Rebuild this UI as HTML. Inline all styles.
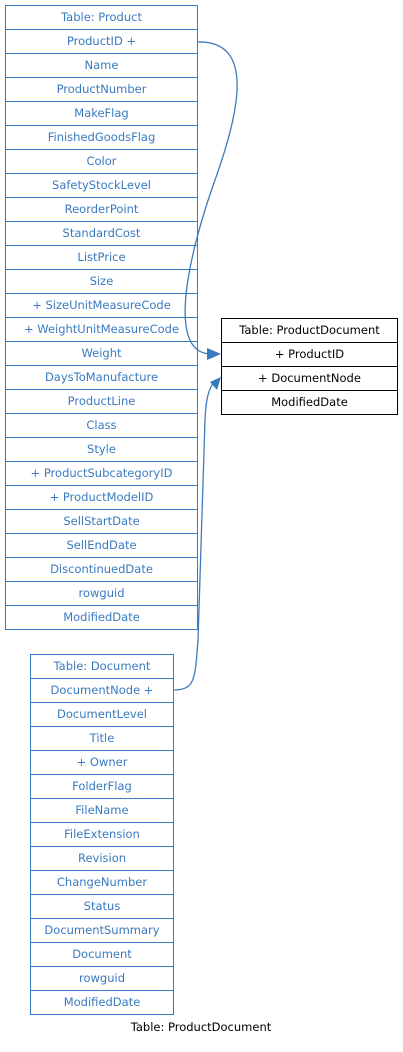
<!DOCTYPE html>
<html><head><meta charset="utf-8"><style>
body{margin:0;background:#fff;width:403px;height:1047px;overflow:hidden}
svg text{font-family:"DejaVu Sans","Liberation Sans",sans-serif;font-size:11.5px}
</style></head><body>
<svg width="403" height="1047" xmlns="http://www.w3.org/2000/svg">
<g id="prod" fill="#fff" stroke="#3a7abf" stroke-width="1"></g>
<g id="doc" fill="#fff" stroke="#3a7abf" stroke-width="1"></g>
<g id="pd" fill="#fff" stroke="#000" stroke-width="1"></g>
<path d="M197,42 C255,40 240,110 215,180 C190,250 165,352 210,354" fill="none" stroke="#3a7abf" stroke-width="1.3"/>
<polygon points="221,354 207,348 207,360" fill="#3a7abf"/>
<path d="M173,690 C195,690 195,680 198,640 L205,420 C206,400 208,390 214,382" fill="none" stroke="#3a7abf" stroke-width="1.3"/>
<polygon points="221,377 210,382 217,390" fill="#3a7abf"/>
<text x="201" y="1031" text-anchor="middle" fill="#000">Table: ProductDocument</text>
</svg>
<script>
function tbl(gid,x,y,w,rows,color){
 var g=document.getElementById(gid),ns="http://www.w3.org/2000/svg";
 rows.forEach(function(r,i){
  var rc=document.createElementNS(ns,"rect");
  rc.setAttribute("x",x+0.5);rc.setAttribute("y",y+i*24+0.5);rc.setAttribute("width",w);rc.setAttribute("height",24);
  g.appendChild(rc);
  var t=document.createElementNS(ns,"text");
  t.setAttribute("x",x+w/2+0.5);t.setAttribute("y",y+i*24+16);t.setAttribute("text-anchor","middle");
  t.setAttribute("fill",color);t.setAttribute("stroke","none");t.textContent=r;g.appendChild(t);
 });
}
tbl("prod",5,5,192,["Table: Product","ProductID +","Name","ProductNumber","MakeFlag","FinishedGoodsFlag","Color","SafetyStockLevel","ReorderPoint","StandardCost","ListPrice","Size","+ SizeUnitMeasureCode","+ WeightUnitMeasureCode","Weight","DaysToManufacture","ProductLine","Class","Style","+ ProductSubcategoryID","+ ProductModelID","SellStartDate","SellEndDate","DiscontinuedDate","rowguid","ModifiedDate"],"#3a7abf");
tbl("doc",30,654,143,["Table: Document","DocumentNode +","DocumentLevel","Title","+ Owner","FolderFlag","FileName","FileExtension","Revision","ChangeNumber","Status","DocumentSummary","Document","rowguid","ModifiedDate"],"#3a7abf");
tbl("pd",221,318,176,["Table: ProductDocument","+ ProductID","+ DocumentNode","ModifiedDate"],"#000");
</script>
</body></html>
